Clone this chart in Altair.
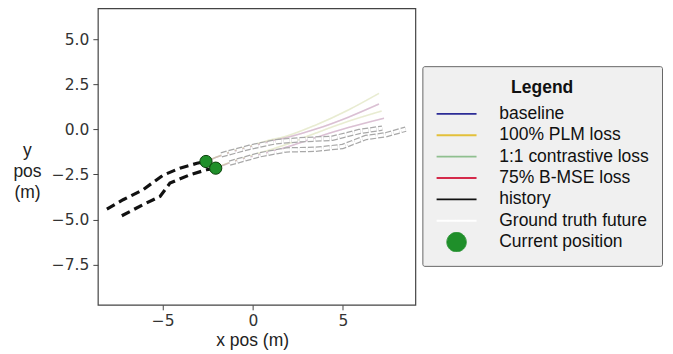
import altair as alt
import pandas as pd

# ---- data ----
series_names = ["baseline", "100% PLM loss", "1:1 contrastive loss", "75% B-MSE loss",
                "history", "Ground truth future", "Current position"]
series_colors = ["#2c2c96", "#e3c03a", "#8fbf8f", "#d42a4a", "#111111", "#ffffff", "#1f8f2a"]

# history (two agents)
hist1_x = [-8.1, -7.2, -6.1, -5.0, -4.05, -3.1, -2.6]
hist1_y = [-4.42, -3.9, -3.35, -2.55, -2.15, -1.88, -1.78]
hist2_x = [-7.27, -6.1, -5.15, -4.6, -3.5, -2.57, -2.06]
hist2_y = [-4.79, -4.18, -3.72, -2.98, -2.52, -2.24, -2.15]

# ground truth future
gt1_x = [-1.75, -0.18, 1.29, 2.58, 4.42, 5.9, 7.18]
gt1_y = [-1.41, -0.99, -0.68, -0.58, -0.49, -0.12, 0.07]
gt2_x = [-1.29, 0.37, 1.85, 3.5, 4.97, 6.27, 7.37, 8.48]
gt2_y = [-1.87, -1.41, -1.14, -1.10, -0.95, -0.45, -0.30, 0.01]

# predicted futures
predA1_x = [-2.6, -1.7, -0.2, 1.0, 2.0, 3.5, 5.3, 7.0]
predA1_y = [-1.78, -1.42, -0.97, -0.65, -0.42, 0.02, 0.68, 1.41]
predG1_x = [-2.6, -1.7, -0.2, 1.0, 1.7, 3.5, 5.3, 7.0]
predG1_y = [-1.78, -1.40, -0.93, -0.58, -0.42, 0.25, 1.08, 2.0]
predA2_x = [-2.06, -1.2, 0.4, 1.8, 3.5, 5.3, 7.28]
predA2_y = [-2.15, -1.82, -1.38, -1.0, -0.45, 0.10, 0.62]
predG2_x = [-2.06, -1.2, 0.4, 1.8, 3.5, 5.3, 7.15]
predG2_y = [-2.15, -1.80, -1.30, -0.85, -0.20, 0.45, 1.02]

# current positions
cur_x = [-2.6, -2.06]
cur_y = [-1.78, -2.15]

x_ticks = [-5, 0, 5]
y_ticks = [-7.5, -5.0, -2.5, 0.0, 2.5, 5.0]


def rows(series, path, xs, ys):
    return [{"series": series, "path": path, "i": i, "x": a, "y": b}
            for i, (a, b) in enumerate(zip(xs, ys))]


pred_rows = []
pred_rows += rows("baseline", "b1", predA1_x, predA1_y)
pred_rows += rows("baseline", "b2", predA2_x, predA2_y)
pred_rows += rows("75% B-MSE loss", "m1", predA1_x, predA1_y)
pred_rows += rows("75% B-MSE loss", "m2", predA2_x, predA2_y)
pred_rows += rows("100% PLM loss", "p1", predG1_x, predG1_y)
pred_rows += rows("100% PLM loss", "p2", predG2_x, predG2_y)
pred_rows += rows("1:1 contrastive loss", "c1", predG1_x, predG1_y)
pred_rows += rows("1:1 contrastive loss", "c2", predG2_x, predG2_y)
pred_df = pd.DataFrame(pred_rows)

hist_df = pd.DataFrame(rows("history", "h1", hist1_x, hist1_y) + rows("history", "h2", hist2_x, hist2_y))
gt_df = pd.DataFrame(rows("Ground truth future", "g1", gt1_x, gt1_y)
                     + rows("Ground truth future", "g2", gt2_x, gt2_y))
cur_df = pd.DataFrame({"series": ["Current position"] * 2, "x": cur_x, "y": cur_y})

X_DOM = [-8.60, 9.02]
Y_DOM = [-9.73, 6.72]

is_cur = "datum.value === 'Current position'"
legend = alt.Legend(
    title="Legend", orient="none", legendX=325, legendY=58,
    symbolType={"expr": f"{is_cur} ? 'circle' : 'stroke'"},
    symbolSize={"expr": f"{is_cur} ? 380 : 1600"},
    symbolStrokeWidth={"expr": f"{is_cur} ? 1 : 1.8"},
    symbolFillColor={"expr": f"{is_cur} ? '#20a03a' : 'transparent'"},
    symbolOpacity=1, symbolDash=[1, 0], symbolOffset=12.5,
    clipHeight=20, rowPadding=1.4, labelOffset=34,
    labelFont="Liberation Sans", labelFontSize=17.5, labelColor="#111",
    titleFont="Liberation Sans", titleFontSize=17.5, titleFontWeight="bold", titleColor="#111",
    titleAnchor="middle", titleAlign="center", titlePadding=7.3,
    fillColor="#f0f0f0", strokeColor="#666", padding=13, cornerRadius=2,
)

color = alt.Color("series:N", scale=alt.Scale(domain=series_names, range=series_colors), legend=legend)

xenc = alt.X("x:Q", scale=alt.Scale(domain=X_DOM, nice=False, zero=False),
             axis=alt.Axis(values=x_ticks, format="d", title="x pos (m)",
                           titleX=154.5, titleY=41, titleAlign="center", titleBaseline="alphabetic"))
yenc = alt.Y("y:Q", scale=alt.Scale(domain=Y_DOM, nice=False, zero=False),
             axis=alt.Axis(values=y_ticks, format=".1f", title=["y", "pos", "(m)"],
                           titleAngle=0, titleX=-71, titleY=147, titleAlign="center",
                           titleBaseline="alphabetic", titleLineHeight=21.5))

pred = alt.Chart(pred_df).mark_line(strokeWidth=1.6, opacity=0.16, interpolate="monotone", clip=True).encode(
    x=xenc, y=yenc, color=color, detail="path:N", order="i:Q")
hist = alt.Chart(hist_df).mark_line(strokeWidth=3.2, strokeDash=[9, 5], clip=True).encode(
    x=xenc, y=yenc, color=color, detail="path:N", order="i:Q")
gt_out = alt.Chart(gt_df).mark_line(strokeWidth=5.5, strokeDash=[6, 2], color="#a8a8a8", clip=True).encode(
    x=xenc, y=yenc, detail="path:N", order="i:Q")
gt_in = alt.Chart(gt_df).mark_line(strokeWidth=3, strokeDash=[6, 2], clip=True).encode(
    x=xenc, y=yenc, color=color, detail="path:N", order="i:Q")
cur = alt.Chart(cur_df).mark_point(filled=True, size=150, opacity=1, stroke="#0a3f0a", strokeWidth=1).encode(
    x=xenc, y=yenc, color=color)

chart = alt.layer(pred, hist, gt_out, gt_in, cur).properties(
    width=318, height=297,
    autosize=alt.AutoSizeParams(type="none"),
    padding={"left": 90, "top": 0, "right": 250, "bottom": 46},
).configure_view(stroke="#444", strokeWidth=1.2).configure_axis(
    grid=False, domain=False, tickColor="#444", tickSize=5, labelPadding=4,
    labelFont="DejaVu Sans", labelFontSize=15.5, labelColor="#333",
    titleFont="Liberation Sans", titleFontSize=17.5, titleFontWeight="normal", titleColor="#222",
)

chart.save("out.html", embed_options={"renderer": "svg", "actions": False})
